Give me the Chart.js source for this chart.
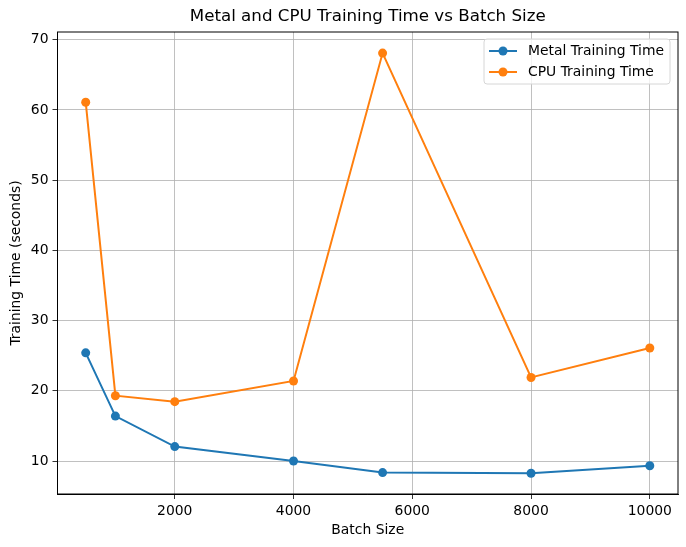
<!DOCTYPE html>
<html>
<head>
<meta charset="utf-8">
<script src="https://cdn.jsdelivr.net/npm/chart.js@4"></script>
<style>
  html, body { margin: 0; padding: 0; background: #fff; }
  #wrap { width: 686px; height: 547px; }
</style>
</head>
<body>
<div id="wrap"><canvas id="chart"></canvas></div>
<script>
// batch sizes (x) and training times in seconds
const batchSizes = [500, 1000, 2000, 4000, 5500, 8000, 10000];
const metalTimes = [25.4, 16.4, 12.05, 10.0, 8.35, 8.25, 9.33];
const cpuTimes = [61.1, 19.3, 18.45, 21.4, 68.1, 21.9, 26.1];
const xTicks = [2000, 4000, 6000, 8000, 10000];
const yTicks = [10, 20, 30, 40, 50, 60, 70];
const chartTitle = "Metal and CPU Training Time vs Batch Size";

const FONT = "'DejaVu Sans', sans-serif";

// matplotlib-style box, title centred over the axes, legend in upper right
const framePlugin = {
  id: "frame",
  afterDraw(chart) {
    const { ctx, chartArea: a } = chart;
    ctx.save();
    ctx.strokeStyle = "#000";
    ctx.lineWidth = 1;
    ctx.strokeRect(a.left, a.top, a.right - a.left, a.bottom - a.top);

    ctx.fillStyle = "#000";
    ctx.font = "16.7px " + FONT;
    ctx.textAlign = "center";
    ctx.textBaseline = "middle";
    ctx.fillText(chartTitle, (a.left + a.right) / 2, 17);

    // legend
    const bx = 484, by = 39, bw = 186, bh = 45;
    ctx.fillStyle = "rgba(255,255,255,0.8)";
    ctx.strokeStyle = "#d6d6d6";
    ctx.beginPath();
    ctx.roundRect(bx, by, bw, bh, 3);
    ctx.fill();
    ctx.stroke();
    ctx.font = "13.9px " + FONT;
    ctx.textAlign = "left";
    chart.data.datasets.forEach((ds, i) => {
      const y = 51 + i * 21;
      ctx.strokeStyle = ds.borderColor;
      ctx.lineWidth = 2;
      ctx.beginPath();
      ctx.moveTo(489, y);
      ctx.lineTo(517, y);
      ctx.stroke();
      ctx.fillStyle = ds.borderColor;
      ctx.beginPath();
      ctx.arc(503, y, 4.5, 0, Math.PI * 2);
      ctx.fill();
      ctx.fillStyle = "#000";
      ctx.fillText(ds.label, 528, y);
    });
    ctx.restore();
  }
};

new Chart(document.getElementById("chart"), {
  type: "line",
  data: {
    datasets: [
      {
        label: "Metal Training Time",
        data: batchSizes.map((x, i) => ({ x, y: metalTimes[i] })),
        borderColor: "#1f77b4",
        backgroundColor: "#1f77b4",
        borderWidth: 2,
        pointRadius: 4.5,
        pointHoverRadius: 4.5,
        pointBorderWidth: 0,
        tension: 0
      },
      {
        label: "CPU Training Time",
        data: batchSizes.map((x, i) => ({ x, y: cpuTimes[i] })),
        borderColor: "#ff7f0e",
        backgroundColor: "#ff7f0e",
        borderWidth: 2,
        pointRadius: 4.5,
        pointHoverRadius: 4.5,
        pointBorderWidth: 0,
        tension: 0
      }
    ]
  },
  options: {
    responsive: true,
    maintainAspectRatio: false,
    animation: false,
    layout: { padding: { left: 0, right: 8, top: 32, bottom: 0 } },
    plugins: {
      legend: { display: false },
      tooltip: { enabled: false },
      title: { display: false }
    },
    scales: {
      x: {
        type: "linear",
        min: 25,
        max: 10475,
        afterBuildTicks: (s) => { s.ticks = xTicks.map((v) => ({ value: v })); },
        afterFit: (s) => { s.height = 53; },
        grid: { color: "#b0b0b0", lineWidth: 0.8, tickColor: "#000", tickLength: 5 },
        border: { color: "#000" },
        ticks: {
          color: "#000", padding: 4, maxRotation: 0,
          font: { family: FONT, size: 13.9 },
          callback: (v) => String(v)
        },
        title: {
          display: true,
          text: "Batch Size",
          color: "#000",
          font: { family: FONT, size: 13.9 },
          padding: { top: 0, bottom: 8 }
        }
      },
      y: {
        min: 5.3,
        max: 71.1,
        afterBuildTicks: (s) => { s.ticks = yTicks.map((v) => ({ value: v })); },
        afterFit: (s) => { s.width = 57.5; },
        grid: { color: "#b0b0b0", lineWidth: 0.8, tickColor: "#000", tickLength: 5 },
        border: { color: "#000" },
        ticks: { color: "#000", padding: 4, font: { family: FONT, size: 13.9 } },
        title: {
          display: true,
          text: "Training Time (seconds)",
          color: "#000",
          font: { family: FONT, size: 13.9 },
          padding: { top: 8, bottom: 0 }
        }
      }
    }
  },
  plugins: [framePlugin]
});
</script>
</body>
</html>
